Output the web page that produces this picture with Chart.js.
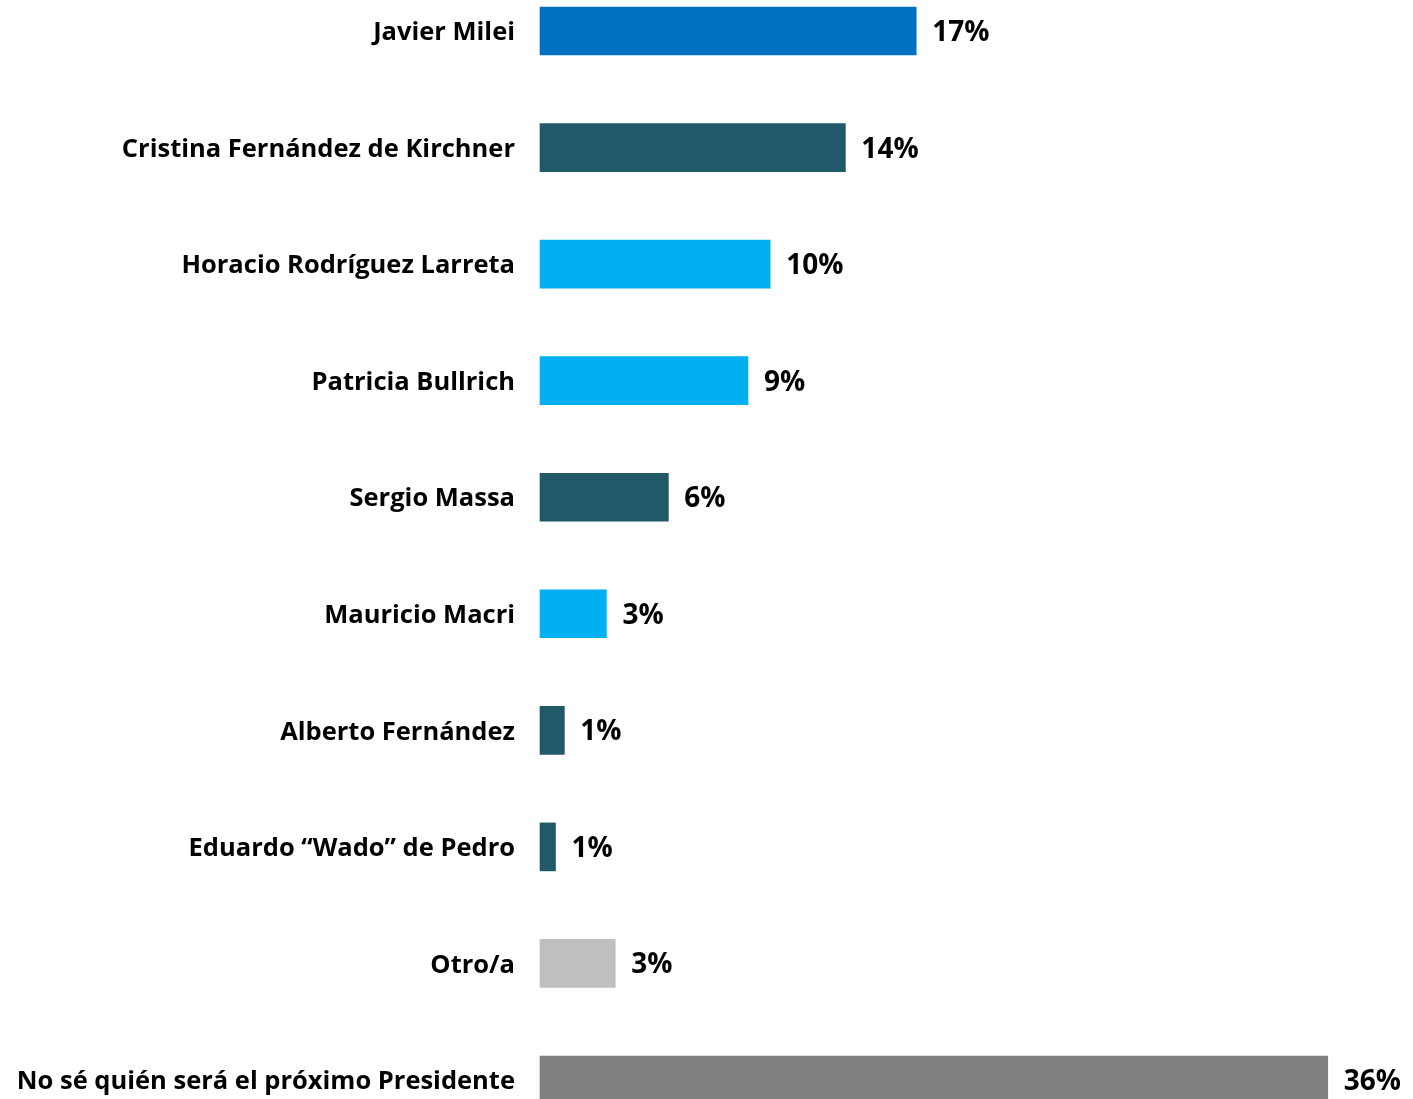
<!DOCTYPE html>
<html>
<head>
<meta charset="utf-8">
<script src="https://cdn.jsdelivr.net/npm/chart.js@4"></script>
<style>
  html, body { margin: 0; padding: 0; background: #fff; overflow: hidden; }
  #wrap { width: 1413px; height: 1099px; position: relative; }
</style>
</head>
<body>
<div id="wrap"><canvas id="chart"></canvas></div>
<script>
// Valores (ancho de barra), etiquetas redondeadas
const candidates = [
  'Javier Milei',
  'Cristina Fernández de Kirchner',
  'Horacio Rodríguez Larreta',
  'Patricia Bullrich',
  'Sergio Massa',
  'Mauricio Macri',
  'Alberto Fernández',
  'Eduardo “Wado” de Pedro',
  'Otro/a',
  'No sé quién será el próximo Presidente',
];
const values = [17, 13.8, 10.4, 9.4, 5.8, 3.0, 1.1, 0.7, 3.4, 35.6];
const valueLabels = ['17%', '14%', '10%', '9%', '6%', '3%', '1%', '1%', '3%', '36%'];
const barColors = ['#0070C0', '#215968', '#00B0F0', '#00B0F0', '#215968', '#00B0F0', '#215968', '#215968', '#BFBFBF', '#7F7F7F'];

const FONT = "'Open Sans', 'DejaVu Sans', sans-serif";

// etiqueta de valor al final de cada barra
const endLabels = {
  id: 'endLabels',
  afterDatasetsDraw(chart) {
    const ctx = chart.ctx;
    const meta = chart.getDatasetMeta(0);
    ctx.save();
    ctx.fillStyle = '#000';
    ctx.font = `bold 28px ${FONT}`;
    ctx.textAlign = 'left';
    ctx.textBaseline = 'middle';
    meta.data.forEach((bar, i) => {
      ctx.fillText(valueLabels[i], bar.x + 16, bar.y + 2);
    });
    ctx.restore();
  }
};

new Chart(document.getElementById('chart'), {
  type: 'bar',
  data: {
    labels: candidates,
    datasets: [{
      data: values,
      backgroundColor: barColors,
      borderWidth: 0,
      barThickness: 48,
      clip: false,
    }],
  },
  options: {
    indexAxis: 'y',
    responsive: true,
    maintainAspectRatio: false,
    animation: false,
    layout: { padding: { top: 31, bottom: 19, right: 10, left: 0 } },
    plugins: {
      legend: { display: false },
      tooltip: { enabled: false },
    },
    scales: {
      x: {
        min: 0,
        max: 39,
        display: false,
      },
      y: {
        offset: false,
        grid: { display: false, drawTicks: false },
        border: { display: false },
        ticks: {
          color: '#000',
          padding: 25,
          labelOffset: 2,
          font: { family: FONT, size: 25.5, weight: 'bold' },
        },
        afterFit(scale) {
          scale.width = 540;
          scale.paddingTop = 0;
          scale.paddingBottom = 0;
        },
      },
    },
  },
  plugins: [endLabels],
});
</script>
</body>
</html>
